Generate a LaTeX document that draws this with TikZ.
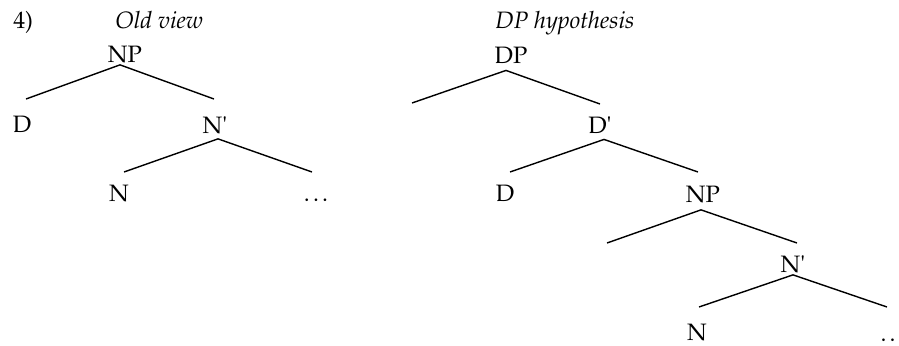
\documentclass[tikz,border=0pt]{standalone}
\usepackage[T1]{fontenc}
\usepackage{mathpazo}
\usepackage{textcomp}
\usepackage{tikz}
\usetikzlibrary{positioning}

\begin{document}
\begin{tikzpicture}[
  x=0.02cm, y=-0.02cm,
  cat/.style={font=\fontsize{13.5}{16}\selectfont, inner sep=0pt, anchor=base},
  branch/.style={line width=0.8pt}
]
\useasboundingbox (0,0) rectangle (899,345);
% headings
\node[cat, anchor=base west] (num) at (13,28) {4)};
\node[cat, anchor=base west] (oldview) at (115,28) {\textit{Old view}};
\node[cat, anchor=base west] (dphyp) at (495,28) {\textit{DP hypothesis}};
% old view tree
\node[cat] (np1) at (125,62) {NP};
\node[cat] (d1) at (22,132) {D};
\node[cat] (nbar1) at (215,133) {N\textquotesingle};
\node[cat] (n1) at (119,201) {N};
\node[cat] (dots1) at (316,201) {.\kern1.8pt.\kern1.8pt.};
\coordinate (np1-l) at (26,99);
\coordinate (np1-r) at (214,99);
\coordinate (nbar1-l) at (124,172);
\coordinate (nbar1-r) at (312,172);
\draw[branch] (np1-l) -- ([shift={(-5,2)}]np1.south) -- (np1-r);
\draw[branch] (nbar1-l) -- ([shift={(3,5)}]nbar1.south) -- (nbar1-r);
% DP hypothesis tree
\node[cat] (dp2) at (511,63) {DP};
\node[cat] (dbar2) at (600,133) {D\textquotesingle};
\node[cat] (d2) at (505,201) {D};
\node[cat] (np2) at (703,202) {NP};
\node[cat] (nbar2) at (793,272) {N\textquotesingle};
\node[cat] (n2) at (697,340) {N};
\node[cat] (dots2) at (888,341) {.\kern1.8pt.};
\coordinate (dp2-l) at (412,103);
\coordinate (dp2-r) at (600,104);
\coordinate (dbar2-l) at (510,172);
\coordinate (dbar2-r) at (698,172);
\coordinate (np2-l) at (607,243);
\coordinate (np2-r) at (797,243);
\coordinate (nbar2-l) at (699,307);
\coordinate (nbar2-r) at (887,307);
\draw[branch] (dp2-l) -- ([shift={(-5,7)}]dp2.south) -- (dp2-r);
\draw[branch] (dbar2-l) -- ([shift={(4,6)}]dbar2.south) -- (dbar2-r);
\draw[branch] (np2-l) -- ([shift={(-2,7)}]np2.south) -- (np2-r);
\draw[branch] (nbar2-l) -- ([shift={(0,2)}]nbar2.south) -- (nbar2-r);
\end{tikzpicture}
\end{document}
